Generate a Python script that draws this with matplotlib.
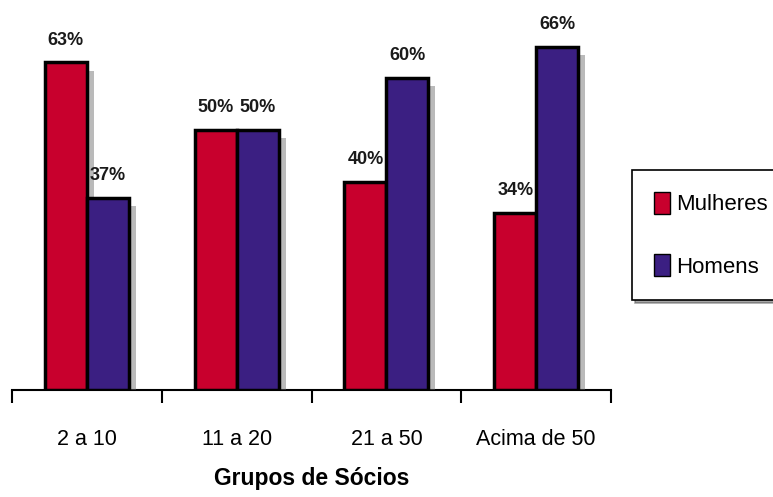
import numpy as np
import matplotlib.pyplot as plt
import matplotlib.patheffects as pe
from matplotlib.patches import Patch

grupos = ['2 a 10', '11 a 20', '21 a 50', 'Acima de 50']
mulheres = [63, 50, 40, 34]
homens = [37, 50, 60, 66]

RED = '#c8002d'
BLUE = '#3b1f82'
FONT = ['Liberation Sans', 'DejaVu Sans']

fig = plt.figure(figsize=(7.73, 4.97), dpi=100)
ax = fig.add_axes([0.0155, 0.215, 0.775, 0.785])

x = np.arange(len(grupos))
w = 0.28
shadow = [pe.SimplePatchShadow(offset=(5, -6), shadow_rgbFace='#666666', alpha=0.45), pe.Normal()]
b1 = ax.bar(x - w / 2, mulheres, w, color=RED, edgecolor='black', linewidth=2.5, zorder=3)
b2 = ax.bar(x + w / 2, homens, w, color=BLUE, edgecolor='black', linewidth=2.5, zorder=3)
for b in list(b1) + list(b2):
    b.set_path_effects(shadow)

for xs, vals in ((x - w / 2, mulheres), (x + w / 2, homens)):
    for xi, v in zip(xs, vals):
        ax.annotate(f'{v}%', (xi, v), xytext=(0, 10), textcoords='offset points',
                    ha='center', va='bottom', fontsize=13, fontweight='bold',
                    family=FONT, color='#1a1a1a')

ax.set_xlim(-0.5, 3.5)
ax.set_ylim(0, 75)
for s in ['top', 'right', 'left']:
    ax.spines[s].set_visible(False)
ax.spines['bottom'].set_linewidth(1.5)
ax.set_yticks([])
ax.set_xticks(x)
ax.set_xticklabels(grupos, family=FONT, fontsize=15.5)
ax.tick_params(axis='x', which='major', length=0, pad=28)
ax.set_xticks(np.arange(-0.5, 4, 1), minor=True)
ax.tick_params(axis='x', which='minor', length=9, width=1.5, direction='out')
ax.set_xlabel('Grupos de Sócios', family=FONT, fontsize=16.5, fontweight='bold', labelpad=12)

handles = [Patch(facecolor=RED, edgecolor='black'), Patch(facecolor=BLUE, edgecolor='black')]
leg = fig.legend(handles, ['Mulheres', 'Homens'], loc='upper left', bbox_to_anchor=(0.8176, 0.658),
                 borderaxespad=0, frameon=True, fancybox=False, shadow=True,
                 handlelength=0.7, handleheight=1.1, handletextpad=0.3,
                 labelspacing=1.75, borderpad=1.0, prop={'family': FONT, 'size': 16})
leg.get_frame().set_edgecolor('black')
leg.get_frame().set_linewidth(1.2)

fig.savefig('out.png', dpi=100)
